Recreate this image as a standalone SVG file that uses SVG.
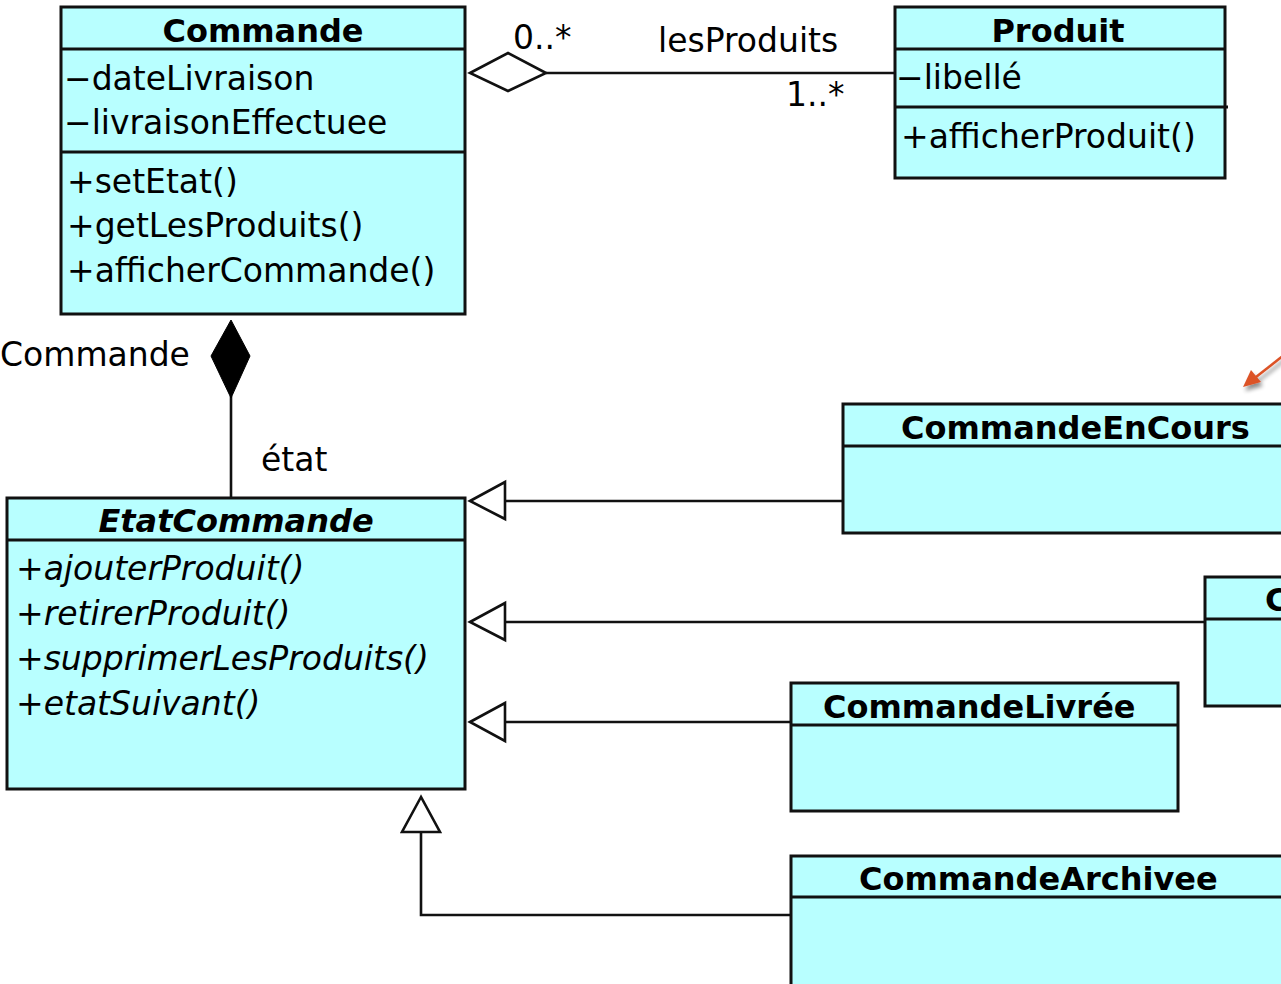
<svg xmlns="http://www.w3.org/2000/svg" width="1281" height="984" viewBox="0 0 1281 984">
<style>
.box{fill:#b8ffff;stroke:#111;stroke-width:3}
.sep{stroke:#111;stroke-width:3}
.ln{fill:none;stroke:#111;stroke-width:2.6}
.head{fill:#fff;stroke:#111;stroke-width:2.6}
.t{font-family:"DejaVu Sans",sans-serif;font-size:33px;fill:#000}
.h{font-family:"DejaVu Sans",sans-serif;font-size:32px;font-weight:bold;fill:#000}
.i{font-style:italic}
</style>
<defs>
<filter id="sh" x="-50%" y="-50%" width="200%" height="200%">
<feGaussianBlur in="SourceAlpha" stdDeviation="2"/>
<feOffset dx="2" dy="4" result="b"/>
<feComponentTransfer><feFuncA type="linear" slope="0.45"/></feComponentTransfer>
<feMerge><feMergeNode/><feMergeNode in="SourceGraphic"/></feMerge>
</filter>
</defs>
<rect width="1281" height="984" fill="#fff"/>

<g id="connectors">
<line class="ln" x1="546" y1="73" x2="895" y2="73"/>
<polygon class="head" points="470,73 508,53 546,73 508,91"/>
<line class="ln" x1="231" y1="396" x2="231" y2="498"/>
<polygon points="231,320 250,356 231,398 211,356" fill="#000" stroke="#000" stroke-width="1"/>
<line class="ln" x1="505" y1="501" x2="843" y2="501"/>
<polygon class="head" points="470,501 505,482 505,519"/>
<line class="ln" x1="505" y1="622" x2="1205" y2="622"/>
<polygon class="head" points="470,622 505,603 505,640"/>
<line class="ln" x1="505" y1="722" x2="791" y2="722"/>
<polygon class="head" points="470,722 505,703 505,741"/>
<polyline class="ln" points="421,832 421,915 795,915"/>
<polygon class="head" points="421,797 402,832 440,832"/>
<text class="t" x="513" y="49">0..*</text>
<text class="t" x="658" y="52">lesProduits</text>
<text class="t" x="786" y="106">1..*</text>
<text class="t" x="0" y="366">Commande</text>
<text class="t" x="261" y="471">état</text>
<g filter="url(#sh)">
<line x1="1284" y1="355" x2="1256" y2="377" stroke="#dc5228" stroke-width="2.5"/>
<polygon points="1243,387 1251,370 1261,382" fill="#dc5228"/>
</g>
</g>

<g id="Commande">
<rect class="box" x="61" y="7" width="404" height="307"/>
<line class="sep" x1="61" y1="49" x2="465" y2="49"/>
<line class="sep" x1="61" y1="152" x2="465" y2="152"/>
<text class="h" x="263" y="42" text-anchor="middle">Commande</text>
<text class="t" x="64" y="90">−dateLivraison</text>
<text class="t" x="64" y="134">−livraisonEffectuee</text>
<text class="t" x="67" y="193">+setEtat()</text>
<text class="t" x="67" y="237">+getLesProduits()</text>
<text class="t" x="67" y="282">+afficherCommande()</text>
</g>

<g id="Produit">
<rect class="box" x="895" y="7" width="330" height="171"/>
<line class="sep" x1="895" y1="49" x2="1225" y2="49"/>
<line class="sep" x1="895" y1="107" x2="1228" y2="107"/>
<text class="h" x="1058" y="42" text-anchor="middle">Produit</text>
<text class="t" x="896" y="89">−libellé</text>
<text class="t" x="901" y="148">+afficherProduit()</text>
</g>

<g id="EtatCommande">
<rect class="box" x="7" y="498" width="458" height="291"/>
<line class="sep" x1="7" y1="540" x2="465" y2="540"/>
<text class="h i" x="236" y="532" text-anchor="middle">EtatCommande</text>
<text class="t i" x="16" y="580">+ajouterProduit()</text>
<text class="t i" x="16" y="625">+retirerProduit()</text>
<text class="t i" x="16" y="670">+supprimerLesProduits()</text>
<text class="t i" x="16" y="715">+etatSuivant()</text>
</g>

<g id="CommandeEnCours">
<rect class="box" x="843" y="404" width="460" height="129"/>
<line class="sep" x1="843" y1="446" x2="1303" y2="446"/>
<text class="h" x="901" y="439">CommandeEnCours</text>
</g>

<g id="CommandeC">
<rect class="box" x="1205" y="577" width="100" height="129"/>
<line class="sep" x1="1205" y1="619" x2="1305" y2="619"/>
<text class="h" x="1265" y="611">C</text>
</g>

<g id="CommandeLivree">
<rect class="box" x="791" y="683" width="387" height="128"/>
<line class="sep" x1="791" y1="725" x2="1178" y2="725"/>
<text class="h" x="823" y="718">CommandeLivrée</text>
</g>

<g id="CommandeArchivee">
<rect class="box" x="791" y="856" width="510" height="140"/>
<line class="sep" x1="791" y1="897" x2="1301" y2="897"/>
<text class="h" x="859" y="890">CommandeArchivee</text>
</g>
</svg>
